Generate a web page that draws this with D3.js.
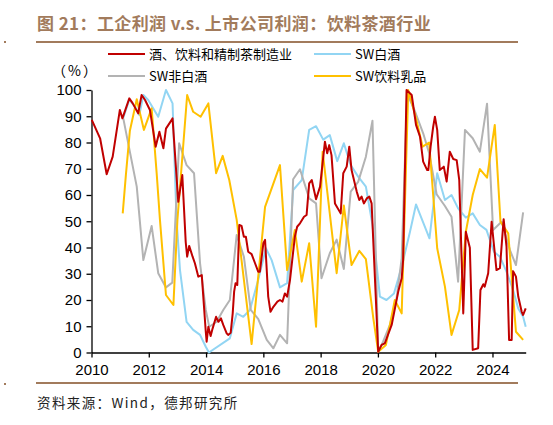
<!DOCTYPE html>
<html>
<head>
<meta charset="utf-8">
<script src="https://cdn.jsdelivr.net/npm/d3@7"></script>
<style>
  body { margin: 0; background: #fff; }
  svg { display: block; }
</style>
</head>
<body>
<svg id="chart" width="553" height="425"></svg>
<script>
// [year, value %]
const liquorMfg = [
  [2010.01, 88.6], [2010.30, 81.6], [2010.53, 67.9], [2010.74, 74.6], [2010.99, 92.4],
  [2011.08, 89.2], [2011.32, 96.8], [2011.44, 94.9], [2011.63, 91.1], [2011.75, 98.1],
  [2011.87, 96.2], [2012.04, 92.4], [2012.24, 78.4], [2012.37, 84.1], [2012.51, 77.8],
  [2012.60, 85.3], [2012.80, 88.6], [2012.83, 89.2], [2013.03, 57.4], [2013.17, 67.6],
  [2013.29, 42.0], [2013.34, 36.5], [2013.41, 40.6], [2013.53, 36.5], [2013.61, 34.0],
  [2013.73, 28.9], [2013.85, 29.5], [2013.99, 7.9], [2014.02, 4.1], [2014.08, 9.8],
  [2014.16, 6.3], [2014.23, 9.2], [2014.35, 13.6], [2014.43, 11.7], [2014.52, 13.0],
  [2014.60, 10.5], [2014.72, 7.3], [2014.77, 6.7], [2014.86, 7.5], [2014.93, 14.9],
  [2014.98, 23.2], [2015.03, 26.4], [2015.09, 25.7], [2015.16, 48.6], [2015.24, 48.2],
  [2015.32, 44.1], [2015.39, 44.1], [2015.47, 38.4], [2015.59, 37.5], [2015.71, 34.0],
  [2015.82, 30.8], [2015.88, 30.8], [2016.00, 41.6], [2016.06, 42.9], [2016.17, 21.3],
  [2016.25, 15.5], [2016.35, 17.4], [2016.49, 19.4], [2016.58, 20.0], [2016.67, 19.4],
  [2016.75, 22.5], [2016.83, 21.3], [2016.93, 27.6], [2017.10, 44.1], [2017.18, 47.9],
  [2017.28, 49.2], [2017.42, 51.7], [2017.51, 52.4], [2017.60, 64.4], [2017.69, 65.7],
  [2017.84, 58.4], [2017.98, 63.2], [2018.15, 80.3], [2018.23, 75.9], [2018.30, 79.0],
  [2018.38, 75.2], [2018.50, 56.8], [2018.70, 53.0], [2018.79, 68.3], [2018.91, 70.8],
  [2019.00, 78.4], [2019.08, 69.5], [2019.26, 61.3], [2019.35, 58.1], [2019.43, 59.4],
  [2019.51, 56.8], [2019.61, 58.7], [2019.70, 59.4], [2019.78, 56.8], [2020.01, 0.3],
  [2020.13, 2.9], [2020.24, 3.5], [2020.48, 10.5], [2020.71, 23.2], [2020.83, 28.3],
  [2020.88, 35.2], [2021.00, 100], [2021.18, 98.1], [2021.33, 86.7], [2021.47, 82.2],
  [2021.58, 72.7], [2021.72, 69.5], [2021.76, 69.5], [2021.84, 78.4], [2021.93, 86.0],
  [2021.99, 89.8], [2022.07, 84.8], [2022.16, 69.5], [2022.30, 70.8], [2022.40, 65.1],
  [2022.51, 76.5], [2022.63, 73.7], [2022.75, 73.3], [2022.84, 65.7], [2022.98, 14.9],
  [2023.07, 46.0], [2023.21, 39.9], [2023.31, 1.0], [2023.50, 1.6], [2023.58, 23.8],
  [2023.68, 26.0], [2023.73, 25.1], [2023.85, 30.2], [2023.97, 49.8], [2024.14, 31.4],
  [2024.26, 32.1], [2024.39, 50.8], [2024.49, 40.3], [2024.58, 4.8], [2024.67, 4.8],
  [2024.72, 31.0], [2024.82, 28.9], [2024.90, 21.3], [2025.02, 15.5], [2025.07, 14.3],
  [2025.16, 16.8]
];

const swBaijiu = [
  [2011.11, 89.5], [2011.32, 96.3], [2011.52, 93.6], [2011.67, 90.5], [2011.81, 98.1],
  [2011.98, 96.2], [2012.33, 89.8], [2012.60, 100], [2012.83, 94.9], [2012.97, 50.5],
  [2013.09, 31.4], [2013.32, 11.7], [2013.55, 8.6], [2013.79, 6.7], [2013.99, 2.2],
  [2014.10, 0], [2014.83, 5.4], [2015.07, 14.9], [2015.30, 13.6], [2015.53, 16.2],
  [2015.82, 27.6], [2016.09, 39.7], [2016.29, 35.2], [2016.58, 24.8], [2016.83, 26.4],
  [2017.04, 61.9], [2017.34, 65.7], [2017.60, 84.8], [2017.84, 86.2], [2018.09, 81.1],
  [2018.32, 82.8], [2018.58, 72.9], [2018.81, 79.7], [2019.05, 71.4], [2019.31, 67.0],
  [2019.58, 63.2], [2019.81, 48.6], [2020.07, 21.3], [2020.30, 20.0], [2020.56, 22.5],
  [2020.83, 32.7], [2021.12, 46.0], [2021.33, 56.4], [2021.80, 43.5], [2022.07, 68.3],
  [2022.34, 58.1], [2022.57, 60.0], [2022.80, 54.9], [2023.07, 51.4], [2023.31, 53.0],
  [2023.56, 48.6], [2023.79, 46.7], [2024.05, 38.4], [2024.26, 36.5], [2024.49, 30.8],
  [2024.72, 23.8], [2024.90, 16.8], [2025.07, 13.6], [2025.16, 9.8]
];

const swNonBaijiu = [
  [2011.11, 89.2], [2011.58, 63.2], [2011.81, 35.2], [2012.10, 48.2], [2012.33, 30.2],
  [2012.60, 24.8], [2012.82, 26.6], [2013.06, 79.7], [2013.32, 71.4], [2013.58, 68.3],
  [2013.79, 34.0], [2013.99, 16.2], [2014.11, 9.8], [2014.37, 11.7], [2014.60, 16.2],
  [2014.83, 20.0], [2015.07, 44.8], [2015.32, 36.5], [2015.56, 16.2], [2015.82, 12.8],
  [2016.12, 4.8], [2016.35, 1.6], [2016.58, 6.7], [2016.83, 3.5], [2017.04, 66.0],
  [2017.28, 69.8], [2017.60, 58.7], [2017.84, 56.8], [2018.03, 28.3], [2018.32, 37.8],
  [2018.56, 43.0], [2018.81, 31.8], [2019.05, 61.3], [2019.31, 65.0], [2019.58, 74.6],
  [2019.81, 88.3], [2020.01, 0.3], [2020.18, 4.1], [2020.42, 10.5], [2020.65, 20.6],
  [2020.83, 35.9], [2021.02, 98.6], [2021.29, 92.0], [2021.58, 83.5], [2021.79, 75.9],
  [2022.05, 60.3], [2022.34, 55.8], [2022.57, 51.7], [2022.80, 27.0], [2023.04, 84.8],
  [2023.31, 81.6], [2023.56, 76.5], [2023.81, 94.8], [2024.02, 46.7], [2024.32, 49.8],
  [2024.61, 39.0], [2024.82, 33.3], [2025.07, 53.4]
];

const swDrinkDairy = [
  [2011.09, 53.0], [2011.20, 67.6], [2011.34, 84.5], [2011.58, 96.5], [2011.83, 84.8],
  [2012.10, 93.0], [2012.28, 67.6], [2012.39, 50.5], [2012.60, 21.9], [2012.86, 18.1],
  [2013.00, 50.5], [2013.34, 98.1], [2013.55, 91.7], [2013.81, 89.8], [2014.08, 94.9],
  [2014.35, 68.3], [2014.58, 74.9], [2014.81, 65.7], [2015.07, 50.5], [2015.59, 3.2],
  [2016.06, 55.5], [2016.58, 71.4], [2016.83, 31.4], [2017.10, 46.7], [2017.34, 27.0],
  [2017.60, 41.6], [2017.84, 9.8], [2018.07, 76.5], [2018.56, 30.2], [2018.81, 56.0],
  [2019.08, 33.3], [2019.35, 38.7], [2019.58, 35.6], [2019.84, 13.0], [2020.01, 0.3],
  [2020.28, 2.9], [2020.59, 20.0], [2020.83, 14.9], [2021.06, 100], [2021.33, 89.2],
  [2021.56, 78.4], [2021.79, 80.0], [2022.07, 39.7], [2022.34, 25.1], [2022.57, 6.7],
  [2022.84, 16.2], [2023.07, 46.0], [2023.31, 60.0], [2023.56, 69.9], [2023.81, 66.6],
  [2024.08, 86.7], [2024.28, 49.8], [2024.55, 45.4], [2024.82, 7.9], [2025.07, 4.8]
];

const seriesNames = ['酒、饮料和精制茶制造业', 'SW白酒', 'SW非白酒', 'SW饮料乳品'];
const seriesColors = ['#c00000', '#92d5f3', '#b3b3b3', '#ffc000'];
const yearTicks = [2010, 2012, 2014, 2016, 2018, 2020, 2022, 2024];
const valueTicks = [0, 10, 20, 30, 40, 50, 60, 70, 80, 90, 100];

const svg = d3.select('#chart');
const brown = '#a27b5c';
const numFont = '"Liberation Sans", Arial, sans-serif';
const cjkFont = '"Noto Sans CJK SC", sans-serif';

// title + rules
svg.append('text')
  .attr('x', 37).attr('y', 30)
  .attr('fill', brown)
  .style('font-family', cjkFont)
  .style('font-size', '17px')
  .style('font-weight', 'bold')
  .style('letter-spacing', '0.4px')
  .text('图 21：工企利润 v.s. 上市公司利润：饮料茶酒行业');

svg.append('rect').attr('x', 36).attr('y', 41).attr('width', 482).attr('height', 2).attr('fill', brown);
svg.append('rect').attr('x', 36).attr('y', 382).attr('width', 482).attr('height', 2).attr('fill', brown);
svg.append('rect').attr('x', 4).attr('y', 41).attr('width', 2).attr('height', 2).attr('fill', brown);
svg.append('rect').attr('x', 4).attr('y', 383).attr('width', 2).attr('height', 2).attr('fill', brown);

svg.append('text')
  .attr('x', 37).attr('y', 408)
  .attr('fill', '#222')
  .style('font-family', cjkFont)
  .style('font-size', '13.5px')
  .style('letter-spacing', '1.4px')
  .text('资料来源：Wind，德邦研究所');

// scales
const x = d3.scaleLinear().domain([2010, 2025.16]).range([91.5, 525.7]);
const y = d3.scaleLinear().domain([0, 100]).range([352.5, 90]);

const xAxis = svg.append('g')
  .attr('transform', 'translate(0,352.5)')
  .call(d3.axisBottom(x).tickValues(yearTicks).tickFormat(d3.format('d')).tickSize(5).tickSizeOuter(0).tickPadding(7));

const yAxis = svg.append('g')
  .attr('transform', 'translate(91.5,0)')
  .call(d3.axisLeft(y).tickValues(valueTicks).tickSize(5).tickSizeOuter(0).tickPadding(5));

[xAxis, yAxis].forEach(g => {
  g.select('.domain').attr('stroke', '#000').attr('stroke-width', 1.3);
  g.selectAll('.tick line').attr('stroke', '#000').attr('stroke-width', 1.3);
  g.selectAll('.tick text')
    .attr('fill', '#000')
    .style('font-family', numFont)
    .style('font-size', '15px');
});

svg.append('text')
  .attr('x', 52).attr('y', 76)
  .style('font-family', cjkFont)
  .style('font-size', '14px')
  .style('letter-spacing', '2px')
  .text('（%）');

// lines
const line = d3.line().x(d => x(d[0])).y(d => y(d[1]));
const allSeries = [liquorMfg, swBaijiu, swNonBaijiu, swDrinkDairy];
const drawOrder = [1, 2, 3, 0];

drawOrder.forEach(i => {
  svg.append('path')
    .datum(allSeries[i])
    .attr('fill', 'none')
    .attr('stroke', seriesColors[i])
    .attr('stroke-width', 2)
    .attr('stroke-linejoin', 'round')
    .attr('d', line);
});

// legend
const legendPos = [[108, 54], [314, 54], [108, 76], [314, 76]];
const legend = svg.selectAll('.legend-item')
  .data(seriesNames)
  .enter()
  .append('g')
  .attr('class', 'legend-item')
  .attr('transform', (d, i) => `translate(${legendPos[i][0]},${legendPos[i][1]})`);

legend.append('line')
  .attr('x1', 0).attr('x2', 37)
  .attr('stroke', (d, i) => seriesColors[i])
  .attr('stroke-width', 2);

legend.append('text')
  .attr('x', 41).attr('dy', '0.36em')
  .style('font-family', cjkFont)
  .style('font-size', '13px')
  .text(d => d);
</script>
</body>
</html>
